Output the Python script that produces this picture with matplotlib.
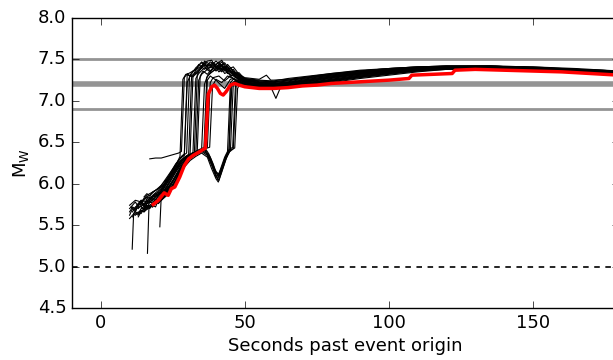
import matplotlib
matplotlib.use('Agg')
import matplotlib.pyplot as plt

# reference magnitude levels
mw_lines = [7.5, 6.9]
mw_final = 7.2
mw_floor = 5.0

# best (preferred) solution
red_t = [18.2, 20, 22, 23.4, 24.5, 25.7, 27.4, 29, 30.5, 32, 34, 36.3, 37.3, 38.5,
         39.5, 40.5, 41.5, 42.5, 43.5, 45, 46.5, 48, 50, 55, 60, 65, 70, 75, 80, 85,
         90, 95, 100, 107, 108, 115, 122, 123, 130, 140, 150, 160, 170, 180]
red_mw = [5.75, 5.80, 5.89, 5.86, 5.94, 5.96, 6.08, 6.22, 6.30, 6.34, 6.38, 6.43, 7.08, 7.17,
          7.19, 7.15, 7.09, 7.07, 7.11, 7.19, 7.21, 7.19, 7.17, 7.15, 7.15, 7.16, 7.18, 7.19, 7.21, 7.22,
          7.23, 7.24, 7.25, 7.27, 7.31, 7.32, 7.33, 7.37, 7.38, 7.37, 7.36, 7.35, 7.33, 7.31]

# ensemble members: early (t, Mw) points, then values on the shared tail times
tail_t = [60, 65, 70, 80, 90, 100, 110, 120, 135, 150, 165, 180]

run_e1 = [(17, 6.30), (19, 6.31), (21, 6.31), (23, 6.33), (25, 6.35), (27, 6.37), (28, 6.39),
          (29, 7.28), (30, 7.33), (31, 7.30), (32, 7.29), (34, 7.36), (36, 7.43), (38, 7.40),
          (40, 7.42), (42, 7.37), (44, 7.40), (46, 7.33), (48, 7.30), (50, 7.27), (55, 7.25)]
tail_e1 = [7.24, 7.27, 7.29, 7.33, 7.37, 7.39, 7.41, 7.42, 7.42, 7.41, 7.38, 7.36]

run_e2 = [(10, 5.62), (11, 5.70), (12, 5.66), (13, 5.74), (14, 5.78), (15, 5.72), (16, 5.80),
          (18, 5.83), (19, 5.88), (20, 5.86), (22, 5.98), (24, 6.10), (26, 6.22), (27, 6.28),
          (28, 6.33), (29, 6.36), (30, 7.32), (31, 7.34), (33, 7.38), (35, 7.47), (37, 7.42),
          (39, 7.46), (41, 7.38), (43, 7.41), (45, 7.34), (47, 7.30), (50, 7.24), (55, 7.22)]
tail_e2 = [7.22, 7.24, 7.27, 7.31, 7.35, 7.38, 7.40, 7.41, 7.42, 7.40, 7.38, 7.35]

run_e3 = [(10.9, 5.21), (11.4, 5.64), (12.5, 5.70), (14, 5.73), (15, 5.68), (16, 5.77),
          (17, 5.79), (18, 5.76), (20, 5.86), (22, 5.95), (24, 6.06), (26, 6.18), (28, 6.27),
          (30, 6.34), (31, 6.36), (32, 7.30), (33, 7.35), (35, 7.42), (37, 7.48), (38.5, 7.49),
          (40, 7.40), (42, 7.47), (44, 7.36), (46, 7.38), (48, 7.28), (50, 7.25), (55, 7.21)]
tail_e3 = [7.20, 7.22, 7.25, 7.30, 7.34, 7.37, 7.40, 7.41, 7.41, 7.40, 7.37, 7.35]

run_e4 = [(12, 5.70), (13, 5.76), (14, 5.80), (15, 5.74), (16, 5.82), (18, 5.85), (20, 5.90),
          (21, 5.88), (23, 6.02), (25, 6.14), (27, 6.24), (29, 6.31), (31, 6.35), (32, 6.38),
          (33, 7.27), (34, 7.33), (36, 7.40), (38, 7.35), (40, 7.44), (42, 7.38), (44, 7.42),
          (46, 7.31), (48, 7.27), (50, 7.22), (55, 7.19)]
tail_e4 = [7.19, 7.21, 7.24, 7.29, 7.33, 7.37, 7.39, 7.41, 7.41, 7.39, 7.37, 7.34]

run_e5 = [(13, 5.60), (14, 5.66), (15, 5.70), (16, 5.69), (17, 5.74), (19, 5.78), (21, 5.82),
          (23, 5.92), (25, 6.03), (27, 6.15), (29, 6.25), (31, 6.32), (33, 6.38), (34, 7.25),
          (35, 7.32), (37, 7.38), (39, 7.45), (41, 7.35), (43, 7.40), (45, 7.30), (47, 7.33),
          (49, 7.25), (52, 7.22), (55, 7.20)]
tail_e5 = [7.20, 7.20, 7.23, 7.28, 7.33, 7.36, 7.39, 7.40, 7.41, 7.39, 7.37, 7.34]

run_e6 = [(16.2, 5.16), (16.7, 5.70), (18, 5.74), (19, 5.72), (20, 5.80), (22, 5.90),
          (24, 6.02), (26, 6.14), (28, 6.24), (30, 6.31), (32, 6.35), (34, 6.39), (35, 6.41),
          (36, 7.20), (37, 7.30), (39, 7.36), (41, 7.44), (43, 7.33), (45, 7.37), (47, 7.28),
          (50, 7.23), (55, 7.18)]
tail_e6 = [7.17, 7.19, 7.22, 7.27, 7.32, 7.35, 7.38, 7.40, 7.40, 7.39, 7.36, 7.34]

run_e7 = [(14, 5.76), (15, 5.80), (16, 5.84), (17, 5.82), (18, 5.86), (20, 5.92), (22, 6.00),
          (24, 6.12), (26, 6.24), (28, 6.32), (29, 6.34), (30, 7.22), (31, 7.30), (33, 7.33),
          (35, 7.40), (36, 7.48), (38, 7.44), (40, 7.36), (42, 7.43), (44, 7.33), (46, 7.35),
          (48, 7.29), (50, 7.26), (55, 7.24)]
tail_e7 = [7.23, 7.25, 7.27, 7.32, 7.36, 7.38, 7.40, 7.42, 7.42, 7.40, 7.38, 7.36]

run_e8 = [(10.5, 5.72), (12, 5.68), (13, 5.76), (14.5, 5.74), (16, 5.70), (17, 5.78),
          (19, 5.84), (21, 5.92), (23, 6.04), (25, 6.16), (27, 6.26), (29, 6.32), (30.5, 6.35),
          (31.5, 7.28), (32.5, 7.34), (34, 7.44), (36, 7.38), (38, 7.47), (40, 7.44), (42, 7.49),
          (44, 7.38), (46, 7.41), (48, 7.32), (50, 7.28), (55, 7.26), (57.5, 7.31), (59, 7.25)]
tail_e8 = [7.25, 7.26, 7.28, 7.33, 7.36, 7.39, 7.41, 7.42, 7.42, 7.41, 7.39, 7.36]

run_e9 = [(11, 5.60), (12, 5.64), (13, 5.62), (14, 5.68), (15, 5.66), (16, 5.72), (18, 5.76),
          (20, 5.82), (22, 5.92), (24, 6.04), (26, 6.16), (28, 6.26), (30, 6.33), (32, 6.37),
          (33.5, 6.40), (34.5, 7.30), (35.5, 7.36), (37, 7.32), (39, 7.40), (41, 7.47), (43, 7.36),
          (45, 7.40), (47, 7.31), (49, 7.27), (52, 7.24), (55, 7.20)]
tail_e9 = [7.19, 7.20, 7.23, 7.28, 7.32, 7.36, 7.38, 7.40, 7.41, 7.39, 7.37, 7.34]

run_e10 = [(10, 5.74), (12, 5.80), (14, 5.78), (16, 5.86), (18, 5.90), (20, 5.94), (22, 6.02),
           (24, 6.10), (26, 6.22), (27.5, 6.33), (28.5, 7.26), (29.5, 7.32), (31, 7.30),
           (33, 7.40), (35, 7.46), (37, 7.38), (39, 7.43), (41, 7.40), (43, 7.46), (45, 7.36),
           (47, 7.34), (50, 7.26), (55, 7.24)]
tail_e10 = [7.23, 7.25, 7.28, 7.32, 7.36, 7.39, 7.41, 7.42, 7.42, 7.40, 7.38, 7.36]

run_e11 = [(11, 5.66), (12, 5.72), (14, 5.76), (15, 5.82), (17, 5.86), (19, 5.92), (21, 5.98),
           (23, 6.08), (25, 6.18), (27, 6.28), (29, 6.35), (29.8, 6.37), (30.8, 7.30), (32, 7.36),
           (34, 7.40), (36, 7.45), (38, 7.36), (40, 7.41), (42, 7.35), (44, 7.44), (46, 7.36),
           (48, 7.31), (50, 7.27), (55, 7.23)]
tail_e11 = [7.21, 7.23, 7.26, 7.31, 7.35, 7.38, 7.40, 7.41, 7.41, 7.40, 7.37, 7.35]

run_e12 = [(13, 5.70), (14, 5.74), (16, 5.76), (18, 5.80), (20, 5.88), (22, 5.96), (24, 6.06),
           (26, 6.16), (28, 6.27), (30, 6.33), (32.5, 6.38), (33.5, 7.32), (34.5, 7.38),
           (36, 7.46), (38, 7.42), (40, 7.48), (42, 7.42), (44, 7.38), (46, 7.33), (48, 7.34),
           (50, 7.26), (55, 7.22)]
tail_e12 = [7.20, 7.22, 7.25, 7.30, 7.34, 7.38, 7.40, 7.41, 7.42, 7.40, 7.38, 7.35]

run_e13 = [(10, 5.66), (11, 5.72), (12, 5.70), (13.5, 5.78), (15, 5.76), (17, 5.82), (19, 5.86),
           (21, 5.94), (23, 6.04), (25, 6.14), (27, 6.24), (29, 6.30), (31, 6.34), (33, 6.37),
           (35, 6.40), (35.8, 6.42), (36.8, 7.28), (38, 7.34), (40, 7.38), (42, 7.44), (44, 7.34),
           (46, 7.30), (48, 7.26), (50, 7.23), (55, 7.20)]
tail_e13 = [7.19, 7.21, 7.23, 7.28, 7.33, 7.36, 7.39, 7.40, 7.41, 7.39, 7.37, 7.34]

run_m1 = [(18, 5.72), (19, 5.78), (20, 5.76), (22, 5.84), (24, 5.94), (26, 6.05), (28, 6.18),
          (30, 6.28), (32, 6.34), (34, 6.38), (36, 6.42), (37, 7.25), (38, 7.30), (40, 7.25),
          (42, 7.18), (43, 7.15), (45, 7.26), (47, 7.28), (50, 7.22), (55, 7.17)]
tail_m1 = [7.16, 7.17, 7.20, 7.25, 7.30, 7.34, 7.37, 7.39, 7.40, 7.38, 7.36, 7.33]

run_m2 = [(15, 5.68), (16, 5.74), (17, 5.72), (19, 5.76), (21, 5.80), (23, 5.88), (25, 5.98),
          (27, 6.12), (29, 6.24), (31, 6.31), (33, 6.36), (35, 6.40), (37, 6.44), (38, 7.22),
          (39, 7.28), (41, 7.30), (43, 7.24), (45, 7.30), (47, 7.24), (50, 7.20), (55, 7.19),
          (57.5, 7.20), (59, 7.17), (60.8, 7.03), (62.5, 7.17)]
tail_m2 = [7.17, 7.18, 7.21, 7.24, 7.29, 7.33, 7.37, 7.39, 7.40, 7.38, 7.36, 7.34]

run_m3 = [(14, 5.72), (15, 5.70), (16, 5.76), (18, 5.78), (20, 5.84), (22, 5.90), (24, 5.98),
          (26, 6.08), (28, 6.20), (30, 6.29), (32, 6.34), (34, 6.38), (36, 6.42), (37.8, 6.44),
          (38.8, 7.18), (40, 7.26), (42, 7.22), (44, 7.30), (46, 7.27), (48, 7.24), (50, 7.20),
          (55, 7.17)]
tail_m3 = [7.16, 7.17, 7.20, 7.24, 7.29, 7.33, 7.36, 7.38, 7.39, 7.38, 7.35, 7.33]

run_l1 = [(10, 5.70), (11, 5.74), (12, 5.78), (13, 5.72), (14, 5.80), (16, 5.78), (18, 5.82),
          (20, 5.80), (21, 5.86), (23, 5.94), (25, 6.04), (27, 6.16), (29, 6.26), (31, 6.32),
          (33, 6.36), (35, 6.40), (37, 6.36), (39, 6.22), (40.5, 6.05), (42, 6.18), (43.5, 6.34),
          (44.5, 6.40), (45.5, 7.18), (46.5, 7.24), (48, 7.22), (50, 7.24), (55, 7.18)]
tail_l1 = [7.18, 7.18, 7.21, 7.26, 7.31, 7.35, 7.38, 7.40, 7.40, 7.39, 7.36, 7.34]

run_l2 = [(20.5, 5.48), (21, 5.86), (22, 5.88), (24, 5.98), (26, 6.10), (28, 6.22), (30, 6.30),
          (32, 6.35), (34, 6.38), (36, 6.41), (38, 6.28), (40, 6.10), (41, 6.04), (42, 6.15),
          (44, 6.35), (45, 6.40), (46, 7.20), (47, 7.22), (49, 7.20), (52, 7.18), (55, 7.16)]
tail_l2 = [7.15, 7.16, 7.19, 7.23, 7.28, 7.32, 7.36, 7.39, 7.40, 7.38, 7.36, 7.33]

run_l3 = [(10, 5.58), (11, 5.62), (12, 5.66), (13, 5.64), (14, 5.70), (16, 5.72), (17, 5.70),
          (18, 5.76), (20, 5.80), (22, 5.86), (24, 5.96), (26, 6.08), (28, 6.20), (30, 6.28),
          (32, 6.33), (34, 6.37), (36, 6.40), (38, 6.30), (39.5, 6.16), (41, 6.08), (42.5, 6.22),
          (44, 6.36), (45, 6.41), (46.5, 6.43), (47.5, 7.15), (48.5, 7.22), (50, 7.20), (55, 7.17)]
tail_l3 = [7.16, 7.17, 7.19, 7.24, 7.29, 7.33, 7.37, 7.39, 7.40, 7.38, 7.35, 7.33]

run_l4 = [(15, 5.84), (16, 5.88), (17, 5.85), (18, 5.90), (20, 5.94), (22, 5.98), (24, 6.08),
          (26, 6.18), (28, 6.28), (30, 6.34), (32, 6.37), (34, 6.41), (36, 6.44), (37.5, 6.36),
          (39, 6.24), (40, 6.14), (41, 6.12), (42, 6.22), (43, 6.32), (44, 6.39), (45, 7.22),
          (46, 7.26), (48, 7.24), (50, 7.26), (55, 7.22)]
tail_l4 = [7.21, 7.22, 7.24, 7.29, 7.34, 7.37, 7.39, 7.41, 7.41, 7.40, 7.37, 7.35]

run_l5 = [(12, 5.62), (13, 5.66), (14, 5.64), (15, 5.70), (16, 5.74), (18, 5.72), (19, 5.78),
          (21, 5.82), (23, 5.90), (25, 5.98), (27, 6.10), (29, 6.22), (31, 6.30), (33, 6.35),
          (35, 6.39), (37, 6.34), (38.5, 6.22), (40, 6.08), (41.5, 6.12), (43, 6.28), (44.5, 6.38),
          (46, 6.42), (47, 7.18), (48, 7.24), (50, 7.21), (55, 7.16)]
tail_l5 = [7.15, 7.16, 7.18, 7.22, 7.27, 7.31, 7.35, 7.38, 7.39, 7.38, 7.35, 7.33]

run_l6 = [(13, 5.64), (14, 5.68), (15, 5.66), (17, 5.72), (19, 5.76), (21, 5.80), (23, 5.86),
          (25, 5.96), (27, 6.08), (29, 6.20), (31, 6.28), (33, 6.33), (35, 6.37), (37, 6.32),
          (38.5, 6.18), (40, 6.06), (40.8, 6.02), (42, 6.14), (43.5, 6.30), (44.5, 6.37),
          (45.2, 7.20), (46.2, 7.23), (48, 7.26), (50, 7.22), (55, 7.18)]
tail_l6 = [7.17, 7.18, 7.21, 7.26, 7.31, 7.35, 7.38, 7.40, 7.40, 7.38, 7.36, 7.34]

run_l7 = [(16, 5.78), (17, 5.80), (18, 5.84), (20, 5.86), (22, 5.92), (24, 6.02), (26, 6.14),
          (28, 6.24), (30, 6.31), (32, 6.36), (34, 6.40), (36, 6.42), (38, 6.32), (39.5, 6.18),
          (40.8, 6.10), (42, 6.20), (43, 6.30), (44.5, 6.41), (45.8, 6.44), (46.8, 7.22),
          (47.8, 7.26), (50, 7.23), (55, 7.19)]
tail_l7 = [7.18, 7.19, 7.21, 7.25, 7.30, 7.34, 7.37, 7.39, 7.40, 7.39, 7.36, 7.33]

members = [
    (run_e1, tail_e1), (run_e2, tail_e2), (run_e3, tail_e3), (run_e4, tail_e4),
    (run_e5, tail_e5), (run_e6, tail_e6), (run_e7, tail_e7), (run_e8, tail_e8),
    (run_e9, tail_e9), (run_e10, tail_e10), (run_e11, tail_e11), (run_e12, tail_e12),
    (run_e13, tail_e13), (run_m1, tail_m1), (run_m2, tail_m2), (run_m3, tail_m3),
    (run_l1, tail_l1), (run_l2, tail_l2), (run_l3, tail_l3), (run_l4, tail_l4),
    (run_l5, tail_l5), (run_l6, tail_l6), (run_l7, tail_l7),
]

plt.style.use('classic')
plt.rcParams['font.family'] = 'DejaVu Sans'
plt.rcParams['font.size'] = 13

fig = plt.figure(figsize=(6.13, 3.6), dpi=100, facecolor='white')
ax = fig.add_axes([72 / 613, 52 / 360, 547.2 / 613, 290 / 360])

for y in mw_lines:
    ax.axhline(y, color='0.58', lw=2, zorder=1)
ax.axhline(mw_final, color='0.58', lw=4, zorder=1)
ax.axhline(mw_floor, color='k', lw=1.2, ls='--', dashes=(4, 4), zorder=1)

for run, tail in members:
    t = [p[0] for p in run]
    m = [p[1] for p in run]
    last = t[-1]
    for tt, mm in zip(tail_t, tail):
        if tt > last:
            t.append(tt)
            m.append(mm)
    ax.plot(t, m, color='k', lw=0.8, zorder=2)

ax.plot(red_t, red_mw, color='#ff0000', lw=2.5, zorder=3)

ax.set_xlim(-10, 180)
ax.set_ylim(4.5, 8.0)
ax.set_xticks([0, 50, 100, 150])
ax.set_yticks([4.5, 5.0, 5.5, 6.0, 6.5, 7.0, 7.5, 8.0])
ax.tick_params(direction='in', length=5, top=True, right=True, labelsize=13)
ax.set_xlabel('Seconds past event origin', fontsize=13, labelpad=4)
ax.set_ylabel(r'$\mathregular{M_W}$', fontsize=13)

fig.savefig('out.png', dpi=100, facecolor='white')
